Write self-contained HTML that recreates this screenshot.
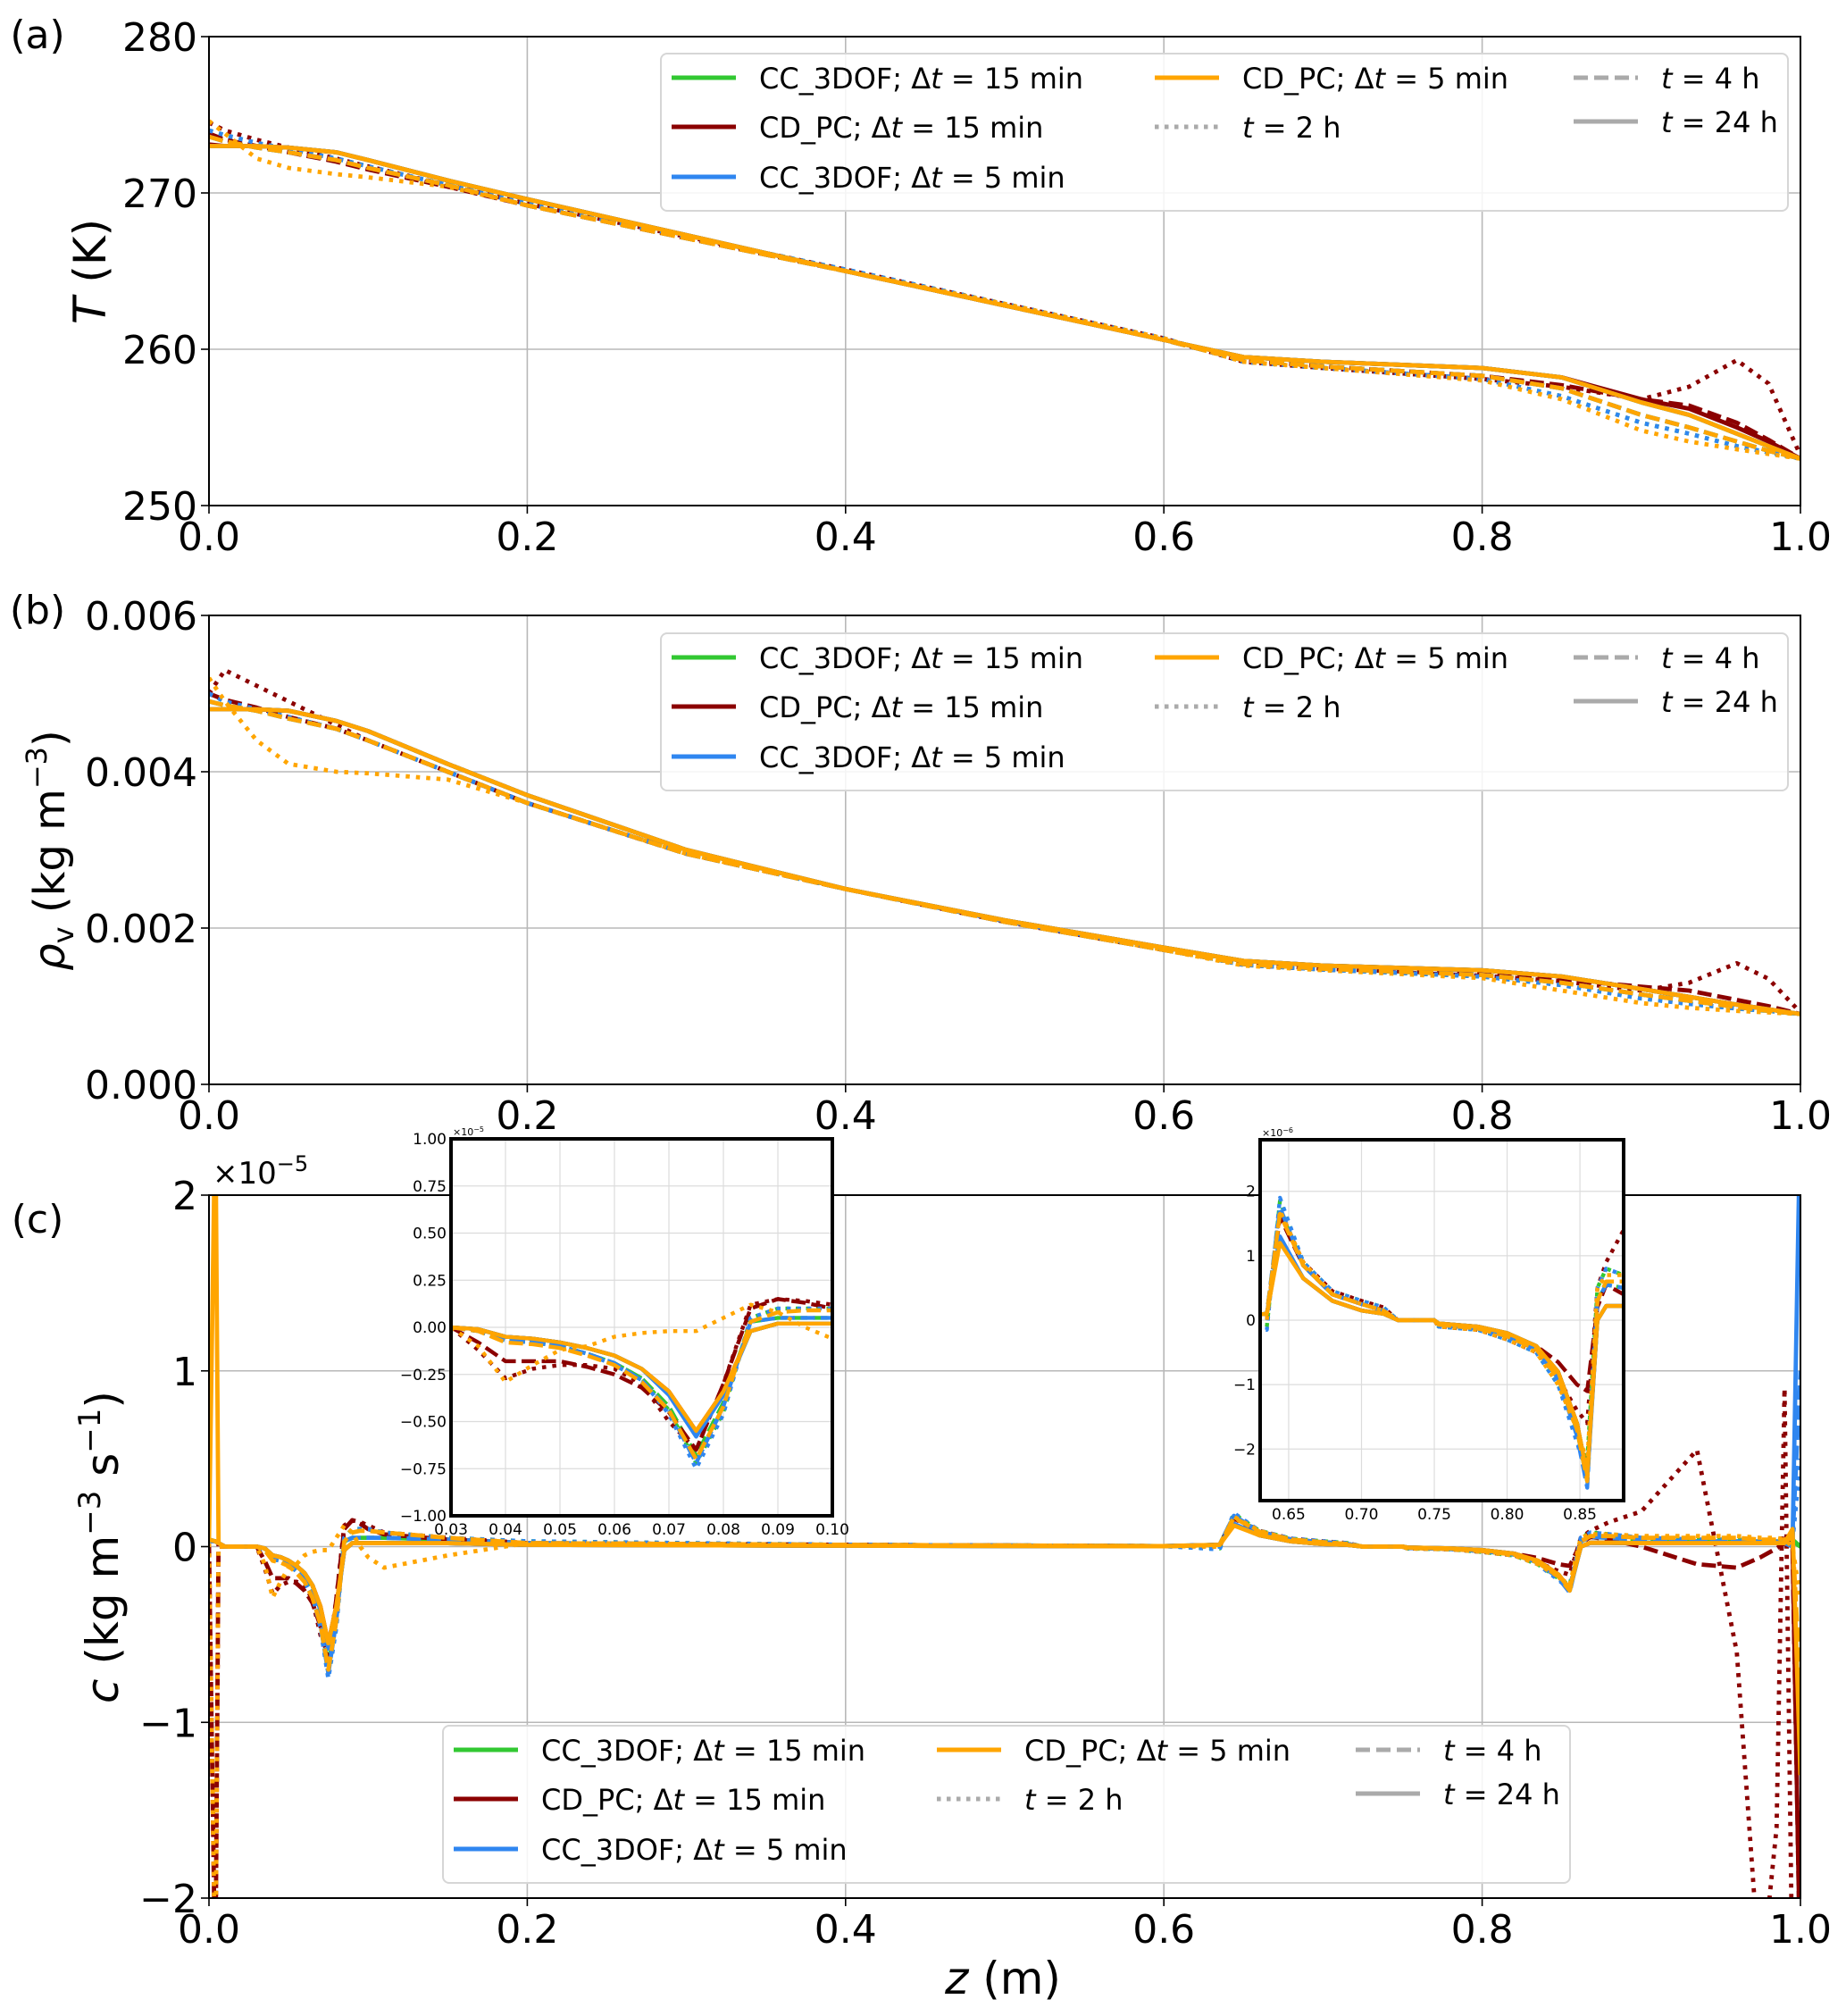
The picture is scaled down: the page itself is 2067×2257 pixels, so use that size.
<!DOCTYPE html>
<html><head><meta charset="utf-8">
<style>
html,body{margin:0;padding:0;background:#fff;width:2067px;height:2257px;overflow:hidden;position:relative;}
svg{position:absolute;left:0;top:0;display:block;font-family:"DejaVu Sans","Liberation Sans",sans-serif;}
</style></head>
<body>
<svg id="fig" width="2067" height="2257" viewBox="0 0 2067 2257" overflow="hidden" xmlns="http://www.w3.org/2000/svg">
<rect width="2067" height="2257" fill="#fff"/>
</svg>
<script>
// ---------- DATA ----------
const zAB = [0,0.01,0.03,0.05,0.08,0.1,0.15,0.2,0.3,0.4,0.5,0.6,0.65,0.7,0.8,0.85,0.9,0.93,0.96,0.98,1.0];

// Panel (a) temperature, K
const T_solid   = [273,273,273,272.9,272.6,272.1,270.8,269.6,267.3,265,262.8,260.6,259.5,259.2,258.8,258.2,256.6,255.8,254.6,253.8,253];
const T_solidR  = [273.1,273,273,272.9,272.6,272.1,270.8,269.6,267.3,265,262.8,260.6,259.5,259.2,258.8,258.2,256.8,256.2,255.0,254.1,253];
const T_dash    = [273.6,273.3,272.9,272.6,272.1,271.6,270.5,269.2,267.1,265,262.8,260.6,259.3,258.9,258.3,257.5,255.8,255.0,254.1,253.5,253];
const T_dashR   = [273.8,273.4,273.0,272.6,272.0,271.5,270.4,269.2,267.1,265,262.8,260.6,259.3,258.9,258.3,257.7,256.8,256.4,255.3,254.2,253];
const T_dot     = [274.0,273.7,273.2,272.8,272.2,271.7,270.5,269.3,267.2,265.1,262.9,260.7,259.2,258.8,258.1,257.0,255.3,254.6,253.8,253.4,253];
const T_dotO    = [274.6,273.8,272.2,271.6,271.2,271.0,270.4,269.2,267.1,265.0,262.9,260.7,259.2,258.8,258.0,256.8,254.8,254.1,253.6,253.3,253];
const T_dotR    = [274.5,274.0,273.4,272.9,272.2,271.7,270.5,269.3,267.2,265.1,262.9,260.7,259.2,258.8,258.1,257.6,256.8,257.6,259.3,257.8,253.2];

// Panel (b) vapour density, kg m-3
const R_solid   = [0.0048,0.0048,0.0048,0.00478,0.00465,0.00452,0.0041,0.0037,0.0030,0.0025,0.0021,0.00175,0.00158,0.00152,0.00146,0.00138,0.00122,0.00112,0.00102,0.00096,0.0009];
const R_dash    = [0.0049,0.00485,0.00478,0.00468,0.00455,0.0044,0.0040,0.0036,0.00295,0.0025,0.00208,0.00172,0.00154,0.00148,0.0014,0.0013,0.00115,0.00107,0.00099,0.00094,0.0009];
const R_dashR   = [0.0050,0.00492,0.00482,0.0047,0.00455,0.0044,0.0040,0.0036,0.00295,0.0025,0.00208,0.00172,0.00154,0.00148,0.00141,0.00134,0.00125,0.0012,0.00108,0.0010,0.0009];
const R_dot     = [0.0050,0.0049,0.0048,0.0047,0.00455,0.0044,0.0040,0.0036,0.00295,0.0025,0.00209,0.00173,0.00153,0.00147,0.00138,0.00127,0.0011,0.00103,0.00097,0.00094,0.0009];
const R_dotO    = [0.0052,0.0049,0.0044,0.0041,0.0040,0.00398,0.0039,0.0036,0.00295,0.0025,0.00208,0.00172,0.00152,0.00146,0.00136,0.0012,0.00104,0.00098,0.00094,0.00092,0.0009];
const R_dotR    = [0.0050,0.0053,0.0051,0.0049,0.0046,0.0044,0.0040,0.0036,0.00295,0.0025,0.00209,0.00173,0.00153,0.00147,0.00139,0.00132,0.0012,0.0013,0.00155,0.00135,0.00092];

// Panel (c) source term, units of 1e-5 kg m-3 s-1
const zC = [0,0.004,0.006,0.01,0.03,0.035,0.04,0.045,0.05,0.055,0.06,0.065,0.07,0.075,0.08,0.085,0.09,0.095,0.1,0.11,0.15,0.2,0.4,0.6,0.635,0.644,0.66,0.68,0.7,0.715,0.725,0.75,0.753,0.78,0.8,0.82,0.835,0.848,0.855,0.862,0.868,0.88,0.9,0.935,0.96,0.975,0.985,0.99,0.995,1.0];
const C_solidG = [0.03,0.03,0.02,0,0,-0.01,-0.05,-0.06,-0.08,-0.11,-0.15,-0.22,-0.35,-0.56,-0.35,-0.02,0.02,0.02,0.02,0.02,0.02,0.01,0.005,0.002,0.01,0.125,0.065,0.03,0.015,0.01,0,0,-0.005,-0.01,-0.02,-0.04,-0.08,-0.16,-0.24,0.0,0.022,0.022,0.02,0.02,0.02,0.02,0.02,0.02,0.03,0.0];
const C_solidB = [0.03,0.03,0.02,0,0,-0.01,-0.05,-0.06,-0.08,-0.11,-0.15,-0.22,-0.36,-0.58,-0.36,-0.02,0.02,0.02,0.02,0.02,0.02,0.01,0.005,0.002,0.01,0.13,0.065,0.03,0.015,0.01,0,0,-0.005,-0.01,-0.02,-0.04,-0.09,-0.17,-0.25,0.0,0.022,0.022,0.02,0.02,0.02,0.02,0.02,0.02,0.0,2.5];
const C_solidO = [0.03,2.5,0.02,0,0,-0.01,-0.05,-0.06,-0.08,-0.11,-0.15,-0.22,-0.34,-0.55,-0.34,-0.02,0.02,0.02,0.02,0.02,0.02,0.01,0.005,0.002,0.01,0.12,0.065,0.03,0.015,0.01,0,0,-0.005,-0.01,-0.02,-0.04,-0.08,-0.16,-0.24,0.0,0.022,0.022,0.02,0.02,0.02,0.02,0.02,0.02,0.1,-1.3];
const C_solidR = [0.03,0.03,0.02,0,0,-0.01,-0.05,-0.06,-0.08,-0.11,-0.15,-0.22,-0.34,-0.55,-0.34,-0.02,0.02,0.02,0.02,0.02,0.02,0.01,0.005,0.002,0.01,0.125,0.065,0.03,0.015,0.01,0,0,-0.005,-0.01,-0.02,-0.04,-0.08,-0.16,-0.24,0.0,0.022,0.022,0.02,0.02,0.02,0.02,0.02,0.02,0.05,-2.5];
const C_dashG  = [0.04,0.03,0.02,0,0,-0.02,-0.07,-0.08,-0.1,-0.14,-0.19,-0.27,-0.42,-0.68,-0.4,0.03,0.05,0.05,0.05,0.05,0.04,0.02,0.01,0.003,0.01,0.17,0.085,0.04,0.025,0.015,0,0,-0.007,-0.013,-0.025,-0.045,-0.09,-0.17,-0.25,0.03,0.055,0.05,0.04,0.03,0.03,0.03,0.03,0.03,0.04,0.0];
const C_dashB  = [0.04,0.03,0.02,0,0,-0.02,-0.07,-0.08,-0.1,-0.14,-0.19,-0.28,-0.44,-0.72,-0.42,0.03,0.05,0.05,0.05,0.05,0.04,0.02,0.01,0.003,0.01,0.175,0.085,0.04,0.025,0.015,0,0,-0.007,-0.013,-0.025,-0.045,-0.09,-0.18,-0.26,0.03,0.055,0.05,0.04,0.03,0.03,0.03,0.03,0.03,0.03,1.0];
const C_dashO  = [0.04,0.03,0.02,0,0,-0.02,-0.08,-0.09,-0.11,-0.15,-0.2,-0.29,-0.44,-0.7,-0.42,0.03,0.08,0.09,0.09,0.08,0.05,0.02,0.01,0.003,0.01,0.165,0.085,0.04,0.025,0.015,0,0,-0.007,-0.013,-0.025,-0.045,-0.09,-0.17,-0.25,0.03,0.06,0.06,0.05,0.05,0.05,0.04,0.04,0.04,0.05,-0.8];
const C_dashR  = [0.03,-2.5,0.02,0,0,-0.08,-0.18,-0.18,-0.18,-0.21,-0.25,-0.32,-0.45,-0.65,-0.3,0.1,0.15,0.13,0.1,0.07,0.04,0.02,0.01,0.003,0.01,0.16,0.085,0.04,0.025,0.015,0,0,-0.007,-0.013,-0.025,-0.04,-0.065,-0.1,-0.11,0.02,0.055,0.04,0.0,-0.1,-0.12,-0.06,-0.01,0.02,0.0,-2.5];
const C_dotG   = [0.04,0.03,0.02,0,0,-0.02,-0.07,-0.08,-0.1,-0.14,-0.19,-0.27,-0.44,-0.72,-0.45,0.05,0.1,0.1,0.1,0.08,0.05,0.03,0.01,0.003,-0.01,0.185,0.09,0.045,0.03,0.02,0,0,-0.01,-0.015,-0.03,-0.05,-0.1,-0.18,-0.22,0.05,0.08,0.07,0.05,0.04,0.04,0.03,0.03,0.03,0.04,0.0];
const C_dotB   = [0.04,0.03,0.02,0,0,-0.02,-0.07,-0.08,-0.1,-0.14,-0.2,-0.28,-0.46,-0.75,-0.46,0.05,0.1,0.1,0.1,0.08,0.05,0.03,0.01,0.003,-0.015,0.19,0.09,0.045,0.03,0.02,0,0,-0.01,-0.015,-0.03,-0.05,-0.1,-0.19,-0.24,0.05,0.08,0.07,0.05,0.04,0.04,0.03,0.03,0.03,0.03,0.5];
const C_dotO   = [0.02,-2.5,0.0,0,0,-0.1,-0.29,-0.2,-0.12,-0.1,-0.05,-0.03,-0.02,-0.02,0.05,0.12,0.08,0.0,-0.06,-0.12,-0.05,0.02,0.01,0.003,0.0,0.17,0.09,0.04,0.025,0.015,0,0,-0.01,-0.015,-0.03,-0.05,-0.1,-0.17,-0.22,0.05,0.07,0.07,0.06,0.06,0.06,0.05,0.05,0.04,0.0,-0.3];
const C_dotR   = [0.02,-2.5,0.0,0,0,-0.12,-0.27,-0.22,-0.2,-0.2,-0.22,-0.3,-0.5,-0.65,-0.3,0.12,0.15,0.14,0.12,0.08,0.05,0.02,0.01,0.003,0.0,0.17,0.09,0.045,0.03,0.02,0,0,-0.01,-0.015,-0.03,-0.05,-0.09,-0.14,-0.16,0.05,0.09,0.14,0.2,0.55,-0.6,-2.5,-1.6,0.9,-2.5,-2.5];

// Tick labels
const xTicks = [0,0.2,0.4,0.6,0.8,1.0];
const xTickLabels = ["0.0","0.2","0.4","0.6","0.8","1.0"];
const aTicks = [250,260,270,280];
const bTicks = [0,0.002,0.004,0.006];
const bTickLabels = ["0.000","0.002","0.004","0.006"];
const cTicks = [-2,-1,0,1,2];
const cTickLabels = ["\u22122","\u22121","0","1","2"];
const in1XTicks = [0.03,0.04,0.05,0.06,0.07,0.08,0.09,0.10];
const in1XLabels = ["0.03","0.04","0.05","0.06","0.07","0.08","0.09","0.10"];
const in1YTicks = [1,0.75,0.5,0.25,0,-0.25,-0.5,-0.75,-1];
const in1YLabels = ["1.00","0.75","0.50","0.25","0.00","\u22120.25","\u22120.50","\u22120.75","\u22121.00"];
const in2XTicks = [0.65,0.70,0.75,0.80,0.85];
const in2XLabels = ["0.65","0.70","0.75","0.80","0.85"];
const in2YTicks = [0.2,0.1,0,-0.1,-0.2];
const in2YLabels = ["2","1","0","\u22121","\u22122"];

// ---------- DRAWING ----------
const NS = "http://www.w3.org/2000/svg";
const svg = document.getElementById('fig');
const COL = {G:"#32c832", R:"#8b0000", B:"#2f86f0", O:"#ffa500"};
const DASH = {dot:"4.5 7", dash:"16 6.5", solid:null};

function mk(tag, attrs, parent){
  const e = document.createElementNS(NS, tag);
  for (const k in attrs) e.setAttribute(k, attrs[k]);
  (parent||svg).appendChild(e);
  return e;
}
function axis(L,R,T,B,x0,x1,y0,y1){
  return {L,R,T,B,x0,x1,x:v=>L+(v-x0)/(x1-x0)*(R-L), y:v=>B-(v-y0)/(y1-y0)*(B-T)};
}
let clipN=0;
function drawSeries(ax, xs, ys, color, style, lw, name, parent){
  const id = 'clip'+(clipN++);
  const cp = mk('clipPath',{id:id},parent);
  mk('rect',{x:ax.L,y:ax.T,width:ax.R-ax.L,height:ax.B-ax.T},cp);
  // only keep points in x-range plus one neighbour each side
  let i0=0, i1=xs.length-1;
  while (i0<xs.length-1 && xs[i0+1]<=ax.x0) i0++;
  while (i1>0 && xs[i1-1]>=ax.x1) i1--;
  let d='';
  for(let i=i0;i<=i1;i++){ d+=(i>i0?'L':'M')+ax.x(xs[i]).toFixed(2)+','+ax.y(ys[i]).toFixed(2); }
  const p = mk('path',{d:d,fill:'none',stroke:color,'stroke-width':lw,'clip-path':'url(#'+id+')','stroke-linejoin':'round'},parent);
  if (DASH[style]) p.setAttribute('stroke-dasharray', DASH[style]);
  
  
  return p;
}
function text(x,y,str,size,anchor,parent,name,extra){
  const t = mk('text',{x:x,y:y,'font-size':size,'text-anchor':anchor||'middle',fill:'#000'},parent);
  t.textContent = str;
  
  
  if (extra) for (const k in extra) t.setAttribute(k, extra[k]);
  return t;
}
function frame(ax, xt, xl, yt, yl, fs, gridCol, lwSpine, tickLen, g, xlOff, ylOff, prefix){
  xt.forEach(v=>{ const l=mk('line',{x1:ax.x(v),x2:ax.x(v),y1:ax.T,y2:ax.B,stroke:gridCol,'stroke-width':1.6},g);  });
  yt.forEach(v=>{ const l=mk('line',{x1:ax.L,x2:ax.R,y1:ax.y(v),y2:ax.y(v),stroke:gridCol,'stroke-width':1.6},g);  });
}
function spines(ax, xt, xl, yt, yl, fs, lw, tl, g, xlOff, ylOff, prefix){
  const r = mk('rect',{x:ax.L,y:ax.T,width:ax.R-ax.L,height:ax.B-ax.T,fill:'none',stroke:'#000','stroke-width':lw},g);
   
  xt.forEach((v,i)=>{
    mk('line',{x1:ax.x(v),x2:ax.x(v),y1:ax.B,y2:ax.B+tl,stroke:'#000','stroke-width':lw*0.8},g);
    text(ax.x(v), ax.B+xlOff, xl[i], fs, 'middle', g, prefix+'-x-tick-label');
  });
  yt.forEach((v,i)=>{
    mk('line',{x1:ax.L-tl,x2:ax.L,y1:ax.y(v),y2:ax.y(v),stroke:'#000','stroke-width':lw*0.8},g);
    text(ax.L-tl-4, ax.y(v)+ylOff, yl[i], fs, 'end', g, prefix+'-y-tick-label');
  });
}
function panelSeries(ax, xs, sets, g, prefix){
  sets.forEach(s=>drawSeries(ax, xs, s[0], COL[s[1]], s[2], 4.8, prefix+'-'+s[3], g));
}
function legend(x0,y0,g,prefix){
  const box = mk('rect',{x:x0,y:y0,width:1262,height:176,rx:7,fill:'#fff','fill-opacity':0.85,stroke:'#d6d6d6','stroke-width':2},g);
   
  const rows=[27,82,138];
  const items=[
    [12,0,COL.G,null,'CC_3DOF; ','15 min'],
    [12,1,COL.R,null,'CD_PC; ','15 min'],
    [12,2,COL.B,null,'CC_3DOF; ','5 min'],
    [553,0,COL.O,null,'CD_PC; ','5 min'],
    [553,1,'#aaa','dot',null,'2 h'],
    [1022,0,'#aaa','dash',null,'4 h'],
    [1022,1,'#aaa','solid',null,'24 h']
  ];
  items.forEach((it,i)=>{
    const gy = y0+rows[it[1]] - (it[0]===1022 && it[1]===1 ? 6 : 0);
    const ln = mk('line',{x1:x0+it[0],x2:x0+it[0]+72,y1:gy,y2:gy,stroke:it[2],'stroke-width':5},g);
    if (it[3]==='dot') ln.setAttribute('stroke-dasharray','4.5 6.5');
    if (it[3]==='dash') ln.setAttribute('stroke-dasharray','16 7');
     
    const t = mk('text',{x:x0+it[0]+98,y:gy+12,'font-size':32,fill:'#000'},g);
     
    if (it[4]) { const a=mk('tspan',{},t); a.textContent=it[4]+'\u0394'; }
    const ti=mk('tspan',{'font-style':'italic'},t); ti.textContent='t';
    const r=mk('tspan',{},t); r.textContent=' = '+it[5];
  });
}

// Panel A
const gA = mk('g',{});  
const axA = axis(234,2016,41,566,0,1,250,280);
frame(axA,xTicks,xTickLabels,aTicks,null,44,'#b8b8b8',0,0,gA,0,0,'panel-a');
panelSeries(axA,zAB,[
  [T_dot,'G','dot','cc3dof-15min-2h'],[T_dash,'G','dash','cc3dof-15min-4h'],[T_solid,'G','solid','cc3dof-15min-24h'],
  [T_dotR,'R','dot','cdpc-15min-2h'],[T_dashR,'R','dash','cdpc-15min-4h'],[T_solidR,'R','solid','cdpc-15min-24h'],
  [T_dot,'B','dot','cc3dof-5min-2h'],[T_dash,'B','dash','cc3dof-5min-4h'],[T_solid,'B','solid','cc3dof-5min-24h'],
  [T_dotO,'O','dot','cdpc-5min-2h'],[T_dash,'O','dash','cdpc-5min-4h'],[T_solid,'O','solid','cdpc-5min-24h']
],gA,'panel-a');
spines(axA,xTicks,xTickLabels,aTicks,aTicks.map(String),44,2,9,gA,50,16,'panel-a');
legend(740,60,gA,'panel-a');
text(42,54,'(a)',44,'middle',gA,'panel-a-tag');
{ const t=mk('text',{transform:'translate(118,304) rotate(-90)','font-size':50,'text-anchor':'middle'},gA);
   
  const a=mk('tspan',{'font-style':'italic'},t); a.textContent='T'; const b=mk('tspan',{},t); b.textContent=' (K)'; }

// Panel B
const gB = mk('g',{});  
const axB = axis(234,2016,689,1214,0,1,0,0.006);
frame(axB,xTicks,xTickLabels,bTicks,null,44,'#b8b8b8',0,0,gB,0,0,'panel-b');
panelSeries(axB,zAB,[
  [R_dot,'G','dot','cc3dof-15min-2h'],[R_dash,'G','dash','cc3dof-15min-4h'],[R_solid,'G','solid','cc3dof-15min-24h'],
  [R_dotR,'R','dot','cdpc-15min-2h'],[R_dashR,'R','dash','cdpc-15min-4h'],[R_solid,'R','solid','cdpc-15min-24h'],
  [R_dot,'B','dot','cc3dof-5min-2h'],[R_dash,'B','dash','cc3dof-5min-4h'],[R_solid,'B','solid','cc3dof-5min-24h'],
  [R_dotO,'O','dot','cdpc-5min-2h'],[R_dash,'O','dash','cdpc-5min-4h'],[R_solid,'O','solid','cdpc-5min-24h']
],gB,'panel-b');
spines(axB,xTicks,xTickLabels,bTicks,bTickLabels,44,2,9,gB,50,16,'panel-b');
legend(740,709,gB,'panel-b');
text(42,698,'(b)',44,'middle',gB,'panel-b-tag');
{ const t=mk('text',{transform:'translate(72,952) rotate(-90)','font-size':48,'text-anchor':'middle'},gB);
   
  const a=mk('tspan',{'font-style':'italic'},t); a.textContent='\u03C1';
  const s=mk('tspan',{'font-size':32,dy:10},t); s.textContent='v';
  const b=mk('tspan',{dy:-10},t); b.textContent=' (kg m';
  const c=mk('tspan',{'font-size':32,dy:-20},t); c.textContent='\u22123';
  const d=mk('tspan',{dy:20},t); d.textContent=')'; }

// Panel C
const gC = mk('g',{});  
const axC = axis(234,2016,1338,2125,0,1,-2,2);
frame(axC,xTicks,xTickLabels,cTicks,null,44,'#b8b8b8',0,0,gC,0,0,'panel-c');
const setsC = [
  [C_dotG,'G','dot','cc3dof-15min-2h'],[C_dashG,'G','dash','cc3dof-15min-4h'],[C_solidG,'G','solid','cc3dof-15min-24h'],
  [C_dotR,'R','dot','cdpc-15min-2h'],[C_dashR,'R','dash','cdpc-15min-4h'],[C_solidR,'R','solid','cdpc-15min-24h'],
  [C_dotB,'B','dot','cc3dof-5min-2h'],[C_dashB,'B','dash','cc3dof-5min-4h'],[C_solidB,'B','solid','cc3dof-5min-24h'],
  [C_dotO,'O','dot','cdpc-5min-2h'],[C_dashO,'O','dash','cdpc-5min-4h'],[C_solidO,'O','solid','cdpc-5min-24h']
];
panelSeries(axC,zC,setsC,gC,'panel-c');
spines(axC,xTicks,xTickLabels,cTicks,cTickLabels,44,2,9,gC,50,16,'panel-c');
legend(496,1932,gC,'panel-c');
text(42,1380,'(c)',44,'middle',gC,'panel-c-tag');
{ const t=mk('text',{x:238,y:1325,'font-size':34},gC);
   
  const a=mk('tspan',{},t); a.textContent='\u00D710'; const b=mk('tspan',{'font-size':24,dy:-14},t); b.textContent='\u22125'; }
{ const t=mk('text',{transform:'translate(132,1732) rotate(-90)','font-size':50,'text-anchor':'middle'},gC);
   
  const a=mk('tspan',{'font-style':'italic'},t); a.textContent='c';
  const b=mk('tspan',{},t); b.textContent=' (kg m';
  const c=mk('tspan',{'font-size':34,dy:-20},t); c.textContent='\u22123';
  const d=mk('tspan',{dy:20},t); d.textContent=' s';
  const e=mk('tspan',{'font-size':34,dy:-20},t); e.textContent='\u22121';
  const f=mk('tspan',{dy:20},t); f.textContent=')'; }
{ const t=mk('text',{x:1123,y:2232,'font-size':50,'text-anchor':'middle'},gC);
   
  const a=mk('tspan',{'font-style':'italic'},t); a.textContent='z'; const b=mk('tspan',{},t); b.textContent=' (m)'; }

// Insets
function inset(L,R,T,B,x0,x1,y0,y1,xt,xl,yt,yl,mult,prefix){
  const g = mk('g',{});  
  const ax = axis(L,R,T,B,x0,x1,y0,y1);
  const bg = mk('rect',{x:L,y:T,width:R-L,height:B-T,fill:'#fff'},g);
   
  xt.forEach(v=>mk('line',{x1:ax.x(v),x2:ax.x(v),y1:T,y2:B,stroke:'#dcdcdc','stroke-width':1.2},g));
  yt.forEach(v=>mk('line',{x1:L,x2:R,y1:ax.y(v),y2:ax.y(v),stroke:'#dcdcdc','stroke-width':1.2},g));
  setsC.forEach(s=>drawSeries(ax, zC, s[0], COL[s[1]], s[2], 4.4, prefix+'-'+s[3], g));
  const fr = mk('rect',{x:L,y:T,width:R-L,height:B-T,fill:'none',stroke:'#000','stroke-width':4},g);
   
  xt.forEach((v,i)=>text(ax.x(v),B+21,xl[i],17,'middle',g,prefix+'-x-tick-label'));
  yt.forEach((v,i)=>text(L-5,ax.y(v)+6,yl[i],17,'end',g,prefix+'-y-tick-label'));
  const t=mk('text',{x:L+2,y:T-4,'font-size':11},g);
   
  const a=mk('tspan',{},t); a.textContent='\u00D710'; const b=mk('tspan',{'font-size':8,dy:-4},t); b.textContent=mult;
}
inset(505,932,1275,1697,0.03,0.10,-1,1,in1XTicks,in1XLabels,in1YTicks,in1YLabels,'\u22125','inset-left');
inset(1411,1818,1276,1680,0.6304,0.880,-0.280,0.280,in2XTicks,in2XLabels,in2YTicks,in2YLabels,'\u22126','inset-right');
</script>
</body></html>
